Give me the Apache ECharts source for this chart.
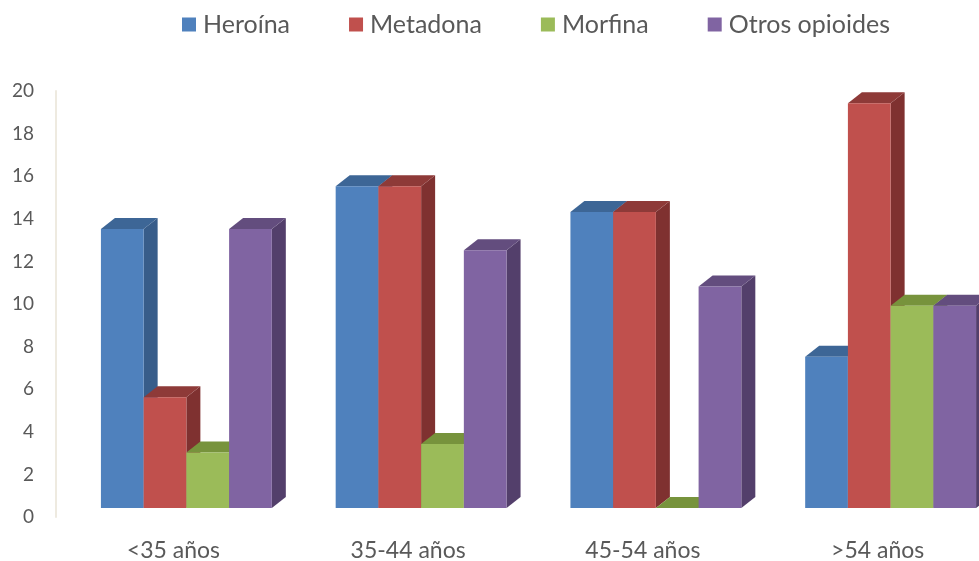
<!DOCTYPE html>
<html>
<head>
<meta charset="utf-8">
<script src="https://cdn.jsdelivr.net/npm/echarts@6/dist/echarts.min.js"></script>
<style>
  html, body { margin: 0; padding: 0; background: #ffffff; }
  #chart { width: 979px; height: 561px; }
</style>
</head>
<body>
<div id="chart"></div>
<script>
// Age groups along the category axis
var categories = ['<35 años', '35-44 años', '45-54 años', '>54 años'];

// One list per opioid, one value per age group
var heroina = [13.1, 15.1, 13.9, 7.1];
var metadona = [5.2, 15.1, 13.9, 19.0];
var morfina = [2.6, 3.0, 0, 9.5];
var otros = [13.1, 12.1, 10.4, 9.5];

var seriesNames = ['Heroína', 'Metadona', 'Morfina', 'Otros opioides'];
var seriesValues = [heroina, metadona, morfina, otros];

// Value axis ticks
var yMin = 0, yMax = 20, yStep = 2;

// Face colours: front, side, top
var palette = [
  { front: '#4F81BD', side: '#385D8A', top: '#3D6696' },
  { front: '#C0504D', side: '#7F3130', top: '#8E3A38' },
  { front: '#9BBB59', side: '#76923C', top: '#77933C' },
  { front: '#8064A2', side: '#533F6B', top: '#634D7E' }
];

// Look of the pseudo-3D columns
var GROUP_RATIO = 0.728;   // share of a category band taken by the four columns
var PLANE_DX = 13, PLANE_DY = 9;   // columns sit a little behind the axis plane
var DEPTH_DX = 14, DEPTH_DY = 11;  // column depth

function renderColumn(params, api) {
  var cat = api.value(0);
  var val = api.value(1);
  var base = api.coord([cat, 0]);
  var top = api.coord([cat, val]);
  var band = api.size([1, 0])[0];
  var groupW = band * GROUP_RATIO;
  var barW = groupW / 4;
  var idx = params.seriesIndex;
  var x0 = base[0] - groupW / 2 + idx * barW + PLANE_DX;
  var x1 = x0 + barW;
  var yb = base[1] - PLANE_DY;
  var yt = top[1] - PLANE_DY;
  var c = palette[idx];
  return {
    type: 'group',
    children: [
      {
        type: 'polygon',
        shape: { points: [[x1, yt], [x1 + DEPTH_DX, yt - DEPTH_DY], [x1 + DEPTH_DX, yb - DEPTH_DY], [x1, yb]] },
        style: { fill: c.side }
      },
      {
        type: 'polygon',
        shape: { points: [[x0, yt], [x0 + DEPTH_DX, yt - DEPTH_DY], [x1 + DEPTH_DX, yt - DEPTH_DY], [x1, yt]] },
        style: { fill: c.top }
      },
      {
        type: 'rect',
        shape: { x: x0, y: yt, width: barW, height: Math.max(yb - yt, 0) },
        style: { fill: c.front }
      }
    ]
  };
}

var chart = echarts.init(document.getElementById('chart'), null, { renderer: 'canvas' });

var series = seriesNames.map(function (name, i) {
  return {
    name: name,
    type: 'custom',
    renderItem: renderColumn,
    itemStyle: { color: palette[i].front },
    encode: { x: 0, y: 1 },
    data: seriesValues[i].map(function (v, j) { return [j, v]; })
  };
});

chart.setOption({
  animation: false,
  color: palette.map(function (p) { return p.front; }),
  textStyle: { fontFamily: 'Lato, "Open Sans", sans-serif' },
  legend: {
    left: 177,
    top: 7,
    icon: 'rect',
    itemWidth: 14,
    itemHeight: 14,
    itemGap: 59,
    textStyle: { fontSize: 25, color: '#595959', fontFamily: 'Lato, "Open Sans", sans-serif', padding: [0, 0, 0, 2] },
    data: seriesNames
  },
  grid: { left: 56, top: 91, bottom: 44, right: -16, containLabel: false, outerBoundsMode: 'none' },
  xAxis: {
    type: 'category',
    data: categories,
    axisLine: { show: false },
    axisTick: { show: false },
    axisLabel: { fontSize: 23, color: '#595959', margin: 22 },
    splitLine: { show: false }
  },
  yAxis: {
    type: 'value',
    min: yMin,
    max: yMax,
    interval: yStep,
    axisLine: { show: true, lineStyle: { color: '#EEEAE0', width: 2 } },
    axisTick: { show: false },
    axisLabel: { fontSize: 19, color: '#595959', margin: 22 },
    splitLine: { show: false }
  },
  series: series
});
</script>
</body>
</html>
